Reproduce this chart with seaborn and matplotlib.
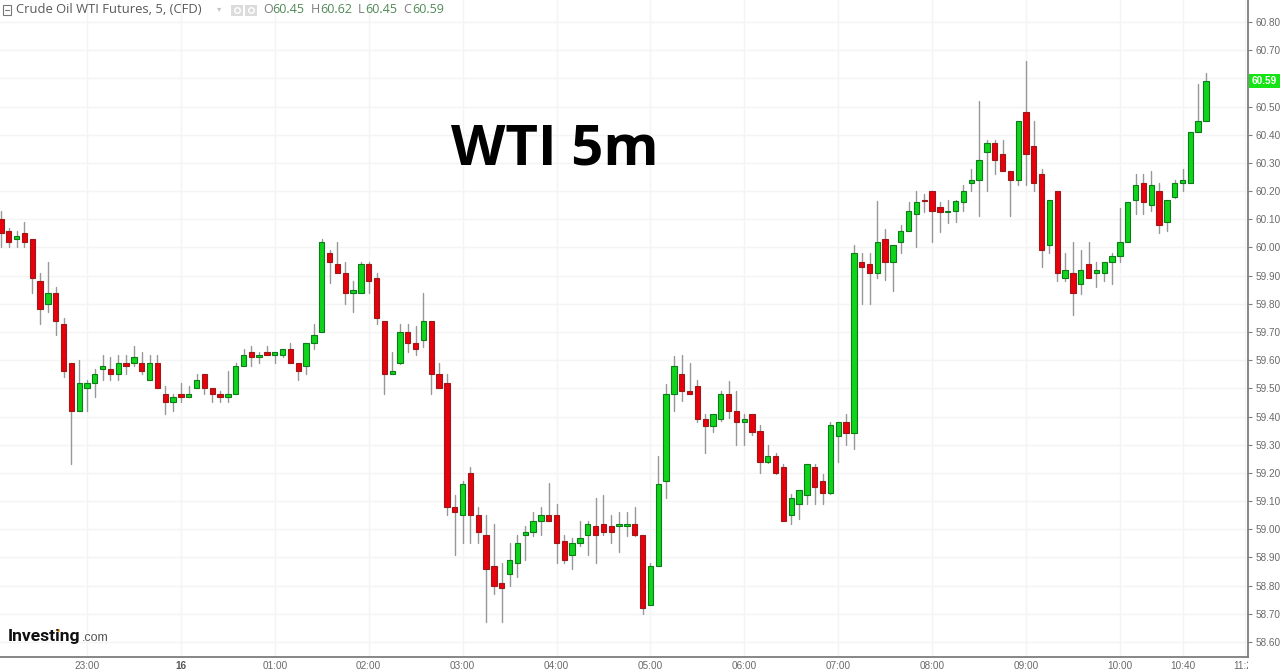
import numpy as np
import pandas as pd
import matplotlib
matplotlib.use("Agg")
import matplotlib.pyplot as plt
from matplotlib.patches import Rectangle
from matplotlib.transforms import Bbox, TransformedBbox
import seaborn as sns

opens = [60.10,60.06,60.03,60.05,60.03,59.88,59.80,59.84,59.73,59.59,59.42,
 59.50,59.52,59.57,59.57,59.55,59.59,59.59,59.59,59.53,59.59,
 59.48,59.45,59.48,59.47,59.50,59.55,59.50,59.48,59.47,59.48,
 59.58,59.63,59.61,59.63,59.62,59.62,59.64,59.59,59.58,59.66,
 59.70,59.98,59.94,59.91,59.84,59.84,59.94,59.89,59.74,59.55,
 59.59,59.70,59.66,59.67,59.74,59.55,59.52,59.08,59.05,59.20,
 59.05,58.98,58.87,58.81,58.84,58.88,58.98,58.99,59.03,59.05,
 59.05,58.96,58.91,58.95,58.98,59.01,59.02,59.01,59.01,59.01,
 59.02,58.98,58.73,58.87,59.17,59.48,59.55,59.49,59.51,59.39,
 59.365,59.39,59.48,59.42,59.38,59.41,59.35,59.24,59.26,59.22,
 59.05,59.09,59.12,59.22,59.17,59.13,59.33,59.38,59.34,59.95,
 59.94,59.91,60.03,59.95,60.02,60.06,60.12,60.17,60.20,60.145,
 60.125,60.13,60.16,60.23,60.24,60.34,60.37,60.33,60.27,60.24,
 60.48,60.36,60.26,60.01,60.20,59.89,59.91,59.87,59.94,59.91,
 59.91,59.95,59.97,60.02,60.17,60.23,60.15,60.20,60.09,60.18,60.23,60.23,60.41,60.45]
closes = [60.05,60.02,60.04,60.02,59.89,59.78,59.84,59.74,59.56,59.42,59.52,
 59.52,59.55,59.58,59.55,59.59,59.58,59.61,59.56,59.59,59.50,
 59.45,59.47,59.47,59.48,59.53,59.50,59.48,59.47,59.48,59.58,
 59.62,59.61,59.62,59.62,59.63,59.64,59.59,59.56,59.66,59.69,
 60.02,59.95,59.91,59.84,59.85,59.94,59.88,59.75,59.55,59.56,
 59.70,59.66,59.64,59.74,59.55,59.50,59.08,59.06,59.16,59.05,
 58.99,58.86,58.80,58.79,58.89,58.95,58.99,59.03,59.05,59.03,
 58.95,58.89,58.95,58.97,59.02,58.98,58.99,58.99,59.02,59.02,
 58.98,58.72,58.87,59.16,59.48,59.58,59.49,59.48,59.39,59.365,
 59.41,59.48,59.42,59.38,59.39,59.345,59.24,59.26,59.20,59.03,
 59.11,59.14,59.23,59.15,59.13,59.37,59.38,59.34,59.98,59.93,
 59.91,60.02,59.95,60.01,60.06,60.13,60.16,60.165,60.13,60.125,
 60.13,60.165,60.20,60.24,60.31,60.37,60.31,60.27,60.24,60.45,
 60.33,60.23,59.99,60.17,59.91,59.92,59.84,59.92,59.89,59.92,
 59.95,59.97,60.02,60.16,60.22,60.16,60.22,60.08,60.17,60.23,60.24,60.41,60.45,60.59]
highs = [60.13,60.07,60.06,60.09,60.03,59.91,59.95,59.86,59.75,59.59,59.60,
 59.53,59.57,59.62,59.61,59.62,59.62,59.65,59.63,59.62,59.62,
 59.51,59.48,59.52,59.51,59.55,59.55,59.50,59.49,59.56,59.59,
 59.64,59.65,59.63,59.65,59.63,59.64,59.66,59.59,59.66,59.73,
 60.03,59.99,60.02,59.95,59.88,59.95,59.95,59.91,59.74,59.63,
 59.73,59.73,59.72,59.84,59.74,59.59,59.55,59.12,59.17,59.22,
 59.08,59.05,59.02,58.88,58.95,58.98,59.01,59.06,59.08,59.165,
 59.09,58.98,58.97,59.03,59.03,59.11,59.12,59.05,59.06,59.06,
 59.08,58.98,58.88,59.26,59.515,59.615,59.62,59.59,59.53,59.41,
 59.41,59.49,59.525,59.49,59.41,59.41,59.37,59.30,59.27,59.23,
 59.125,59.14,59.23,59.23,59.195,59.38,59.38,59.41,60.01,59.98,
 59.98,60.165,60.065,60.01,60.08,60.16,60.20,60.19,60.20,60.16,
 60.17,60.17,60.22,60.28,60.52,60.38,60.38,60.38,60.27,60.45,
 60.66,60.45,60.28,60.17,60.20,59.98,60.02,59.99,60.02,59.95,
 59.95,59.98,60.14,60.16,60.26,60.26,60.27,60.23,60.17,60.24,60.28,60.41,60.58,60.62]
lows = [60.00,60.00,60.00,60.00,59.84,59.73,59.77,59.69,59.54,59.23,59.42,
 59.42,59.47,59.53,59.53,59.53,59.55,59.58,59.55,59.53,59.50,
 59.41,59.42,59.45,59.47,59.50,59.48,59.45,59.45,59.45,59.48,
 59.58,59.58,59.59,59.62,59.59,59.61,59.59,59.53,59.55,59.64,
 59.70,59.875,59.91,59.80,59.77,59.84,59.84,59.73,59.48,59.55,
 59.585,59.63,59.62,59.645,59.48,59.50,59.05,58.91,58.95,58.95,
 58.95,58.67,58.77,58.67,58.80,58.83,58.89,58.975,58.98,59.03,
 58.88,58.88,58.86,58.94,58.91,58.88,58.98,58.95,58.92,58.975,
 58.975,58.70,58.73,58.87,59.11,59.42,59.455,59.48,59.38,59.27,
 59.345,59.385,59.395,59.30,59.30,59.335,59.20,59.235,59.195,59.03,
 59.02,59.035,59.09,59.09,59.09,59.125,59.24,59.30,59.285,59.80,
 59.80,59.89,59.885,59.845,59.98,60.06,60.00,60.125,60.02,60.055,
 60.085,60.09,60.13,60.20,60.11,60.20,60.26,60.27,60.11,60.22,
 60.22,60.20,59.93,59.98,59.88,59.88,59.76,59.835,59.89,59.86,
 59.88,59.87,59.95,60.02,60.12,60.12,60.13,60.05,60.06,60.175,60.20,60.23,60.41,60.45]
first_bar = -11  # bars counted from the 23:00 bar, 5 minutes each
x_tick_bars = [0, 12, 24, 36, 48, 60, 72, 84, 96, 108, 120, 132, 140, 148]
x_tick_labels = ["23:00","16","01:00","02:00","03:00","04:00","05:00","06:00",
                 "07:00","08:00","09:00","10:00","10:40","11:20"]
y_ticks = [58.6,58.7,58.8,58.9,59.0,59.1,59.2,59.3,59.4,59.5,59.6,59.7,59.8,59.9,
           60.0,60.1,60.2,60.3,60.4,60.5,60.6,60.7,60.8]
y_hidden_by_tag = 60.6

GREEN, GREEN_E = "#0ed51b", "#0f7a1a"
RED, RED_E = "#e8000c", "#9a1a1a"
GRID = "#f4f4f4"; AXIS = "#7d7d7d"; TXT = "#6a6a6a"
W, H = 1280, 672

sns.set_theme(style="white", rc={"font.family": ["Liberation Sans", "DejaVu Sans"]})
fig = plt.figure(figsize=(12.8, 6.72), dpi=100, facecolor="white")
ax = fig.add_axes([0, 15/H, 1248/W, 657/H])

df = pd.DataFrame({"open": opens, "close": closes, "high": highs, "low": lows})
df["bar"] = np.arange(len(df)) + first_bar
df["top"] = df[["open", "close"]].max(axis=1)
df["bottom"] = df[["open", "close"]].min(axis=1)
df["size"] = df["top"] - df["bottom"]

wicks = df.melt(id_vars="bar", value_vars=["low", "high"], value_name="price")
sns.lineplot(data=wicks, x="bar", y="price", units="bar", estimator=None,
             color="#989898", lw=1.0, ax=ax, legend=False, zorder=2)

for mask, fc, ec in [(df["close"] >= df["open"], GREEN, GREEN_E),
                     (df["close"] < df["open"], RED, RED_E)]:
    part = df[mask]
    sns.barplot(data=part, x="bar", y="size", bottom=part["bottom"].to_numpy(),
                native_scale=True, width=0.68, color=fc, saturation=1, errorbar=None,
                edgecolor=ec, linewidth=0.8, ax=ax, zorder=3)

ax.set_xlim((0-87)/7.825, (1248-87)/7.825)
ax.set_ylim(60.80-635/281.8, 60.80+22/281.8)
ax.set_xlabel(""); ax.set_ylabel("")
ax.set_xticks(x_tick_bars); ax.set_xticklabels(x_tick_labels)
ax.set_yticks(y_ticks)
ax.set_yticklabels(["" if v == y_hidden_by_tag else f"{v:.2f}" for v in y_ticks])
ax.yaxis.tick_right()
ax.set_axisbelow(True)
ax.grid(True, color=GRID, lw=1.0)
for s in ["top", "left"]:
    ax.spines[s].set_visible(False)
for s in ["right", "bottom"]:
    ax.spines[s].set_visible(True); ax.spines[s].set_color(AXIS); ax.spines[s].set_linewidth(1.3)
ax.tick_params(axis="both", length=3, width=0.8, color=AXIS, labelcolor=TXT, labelsize=7.2, pad=2.5)
ax.tick_params(axis="x", length=2.5, pad=0.5)
clip = TransformedBbox(Bbox([[0, 0], [1248/W, 1]]), fig.transFigure)
for lab in ax.get_xticklabels():
    lab.set_clip_box(clip); lab.set_clip_on(True)
ax.get_xticklabels()[1].set_fontweight("bold")
ax.get_xticklabels()[1].set_color("#555555")

def ptext(px, py, s, **kw):
    kw.setdefault("va", "center")
    return fig.text(px/W, 1-py/H, s, **kw)

# current price tag
fig.patches.append(Rectangle((1249/W, 1-87.5/H), 31/W, 13.5/H, transform=fig.transFigure,
                             fc="#14e414", ec="none", zorder=5))
ptext(1264.5, 81, f"{closes[-1]:.2f}", color="white", fontsize=7.2, fontweight="bold",
      ha="center", zorder=6)

# big title
ptext(555, 164.5, "WTI 5m", family="Open Sans", fontweight="bold", fontsize=40.5, color="black",
      ha="center", va="baseline")

# header strip
HF = "Open Sans"
fig.patches.append(Rectangle((2.5/W, 1-15/H), 8.5/W, 9.5/H, transform=fig.transFigure,
                             fc="white", ec="#777777", lw=0.8))
fig.add_artist(plt.Line2D([4.5/W, 9/W], [1-10.2/H]*2, color="#777777", lw=0.8))
ptext(16, 9.5, "Crude Oil WTI Futures, 5, (CFD)", family=HF, fontsize=9.4, color="#5a5a5a")
ptext(219, 9, "▾", family="DejaVu Sans", fontsize=6, color="#c4c4c4", ha="center")
for bx in (231, 245):
    fig.patches.append(Rectangle((bx/W, 1-16/H), 11.5/W, 11.5/H, transform=fig.transFigure,
                                 fc="#dcdcdc", ec="none"))
    fig.add_artist(plt.Line2D([(bx+5.7)/W], [1-10.2/H], marker="o", ms=4, mfc="none",
                              mec="white", mew=1, transform=fig.transFigure))
for px, letter, val in [(263, "O", opens[-1]), (311, "H", highs[-1]),
                        (358, "L", lows[-1]), (403, "C", closes[-1])]:
    ptext(px, 9.5, letter, family=HF, fontsize=9, color="#7c7c7c")
    ptext(px + (9 if letter != "L" else 7.5), 9.5, f"{val:.2f}", family=HF, fontsize=9, color="#4f8a55")

# logo
ptext(8, 637, "Investing", family="Roboto", fontweight="bold", fontsize=12.6, color="#111111")
ptext(81.5, 638, ".com", family="Liberation Sans", fontsize=9, color="#555555")
fig.add_artist(plt.Line2D([58/W], [1-630/H], marker="o", ms=2.2, mfc="#f0a020", mec="none",
                          transform=fig.transFigure))

fig.savefig("out.png", dpi=100)
